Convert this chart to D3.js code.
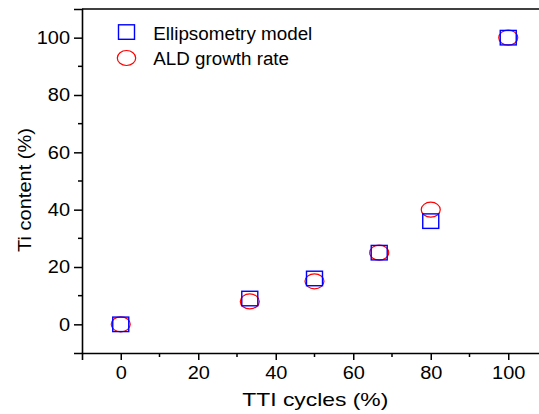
<!DOCTYPE html>
<html><head><meta charset="utf-8">
<script src="https://cdn.jsdelivr.net/npm/d3@7"></script>
<style>body{margin:0;background:#fff}svg{display:block}text{font-family:"Liberation Sans",Arial,sans-serif;fill:#000}</style>
</head><body>
<script>
const ttiCycles = [0, 33.3, 50, 66.7, 80, 100];
const ellipsometry = [0, 9, 16, 25, 36, 100];
const aldGrowth = [0, 8, 15, 25, 40, 100];
const xTicks = [0, 20, 40, 60, 80, 100];
const yTicks = [0, 20, 40, 60, 80, 100];
const seriesNames = ["Ellipsometry model", "ALD growth rate"];

const W = 539, H = 414;
const svg = d3.select("body").append("svg").attr("width", W).attr("height", H);
const x = d3.scaleLinear().domain([-10, 110]).range([82, 547]);
const y = d3.scaleLinear().domain([-10, 110]).range([353, 9]);
const digitW = 11.1;

// top frame line
svg.append("line").attr("x1", x(-10)).attr("x2", x(110)).attr("y1", y(110)).attr("y2", y(110))
  .attr("stroke", "#000").attr("stroke-width", 1.6);

const xMinor = d3.range(-10, 111, 20).filter(v => v > -10 && v < 110);
const yMinor = d3.range(-10, 111, 20).filter(v => v > -10 && v < 110);

const gx = svg.append("g").attr("transform", `translate(0,${y(-10)})`)
  .call(d3.axisBottom(x).tickValues(xTicks).tickSize(7).tickPadding(6).tickFormat(d3.format("d")));
gx.append("g").selectAll("line").data(xMinor).join("line")
  .attr("x1", d => x(d)).attr("x2", d => x(d)).attr("y1", 0).attr("y2", 4).attr("stroke", "#000").attr("stroke-width", 1.5);

const gy = svg.append("g").attr("transform", `translate(${x(-10)},0)`)
  .call(d3.axisLeft(y).tickValues(yTicks).tickSize(8).tickPadding(4).tickFormat(d3.format("d")));
gy.append("g").selectAll("line").data(yMinor).join("line")
  .attr("y1", d => y(d)).attr("y2", d => y(d)).attr("x1", 0).attr("x2", -4).attr("stroke", "#000").attr("stroke-width", 1.5);

[gx, gy].forEach(g => {
  g.select(".domain").attr("stroke-width", 1.6);
  g.selectAll(".tick line").attr("stroke-width", 1.5);
  g.selectAll(".tick text").attr("fill", "#000").attr("font-size", 18)
    .attr("font-family", "Liberation Sans, Arial, sans-serif")
    .attr("textLength", d => String(d).length * digitW).attr("lengthAdjust", "spacingAndGlyphs");
});

// axis titles
svg.append("text").attr("x", 315.3).attr("y", 405.5).attr("text-anchor", "middle").attr("font-size", 18.5)
  .attr("textLength", 146).attr("lengthAdjust", "spacingAndGlyphs").text("TTI cycles (%)");
svg.append("text").attr("transform", "translate(30.5,190) rotate(-90)").attr("text-anchor", "middle").attr("font-size", 18.5)
  .attr("textLength", 124).attr("lengthAdjust", "spacingAndGlyphs").text("Ti content (%)");

// data
const sqW = 16, sqH = 14.5, rx = 9.5, ry = 7.5;
svg.append("g").selectAll("ellipse").data(ttiCycles).join("ellipse")
  .attr("cx", d => x(d)).attr("cy", (d, i) => y(aldGrowth[i])).attr("rx", rx).attr("ry", ry)
  .attr("fill", "none").attr("stroke", "#ff0000").attr("stroke-width", 1.2);
svg.append("g").selectAll("rect").data(ttiCycles).join("rect")
  .attr("x", d => x(d) - sqW / 2).attr("y", (d, i) => y(ellipsometry[i]) - sqH / 2).attr("width", sqW).attr("height", sqH)
  .attr("fill", "none").attr("stroke", "#0000ff").attr("stroke-width", 1.4);

// legend
const lg = svg.append("g");
lg.append("rect").attr("x", 118.5).attr("y", 24.8).attr("width", sqW).attr("height", sqH)
  .attr("fill", "none").attr("stroke", "#0000ff").attr("stroke-width", 1.4);
lg.append("ellipse").attr("cx", 126.5).attr("cy", 58).attr("rx", 9.2).attr("ry", 7.5)
  .attr("fill", "none").attr("stroke", "#ff0000").attr("stroke-width", 1.2);
lg.append("text").attr("x", 153.3).attr("y", 39.5).attr("font-size", 18)
  .attr("textLength", 159).attr("lengthAdjust", "spacingAndGlyphs").text(seriesNames[0]);
lg.append("text").attr("x", 153.3).attr("y", 64.5).attr("font-size", 18)
  .attr("textLength", 135.7).attr("lengthAdjust", "spacingAndGlyphs").text(seriesNames[1]);
</script>
</body></html>
